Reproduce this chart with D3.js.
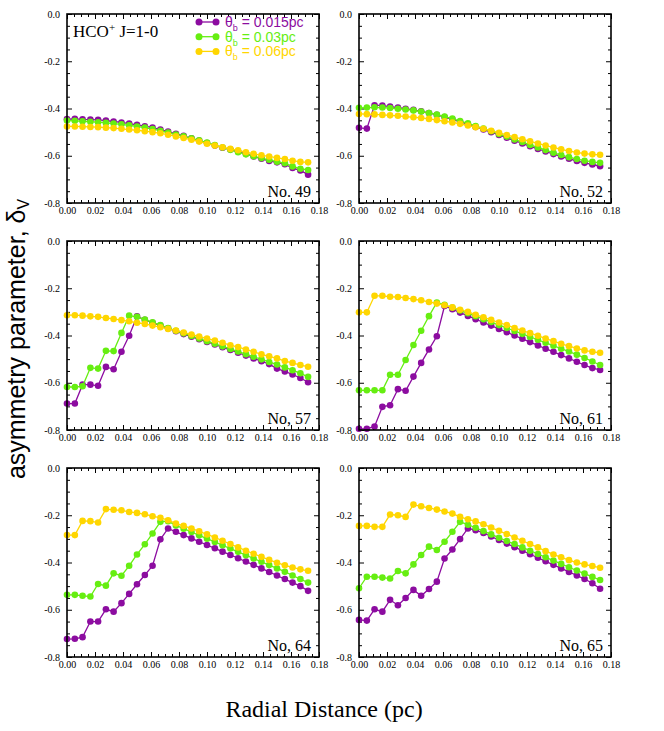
<!DOCTYPE html>
<html>
<head>
<meta charset="utf-8">
<script src="https://cdn.jsdelivr.net/npm/d3@7"></script>
<style>
  body { margin: 0; background: #fff; }
</style>
</head>
<body>
<div id="chart"></div>
<script>
// radial distance of each sample (pc)
var radius = [0.0000, 0.0056, 0.0111, 0.0167, 0.0222, 0.0278, 0.0333, 0.0389,
              0.0444, 0.0500, 0.0556, 0.0611, 0.0667, 0.0722, 0.0778, 0.0833,
              0.0889, 0.0944, 0.1000, 0.1056, 0.1111, 0.1167, 0.1222, 0.1278,
              0.1333, 0.1389, 0.1444, 0.1500, 0.1556, 0.1611, 0.1667, 0.1722];

var beams = ["0.015pc", "0.03pc", "0.06pc"];
var beamColors = ["#8c0ca0", "#66ee11", "#ffd600"];

// No. 49
var n49b015 = [-0.445,-0.444,-0.446,-0.447,-0.448,-0.451,-0.455,-0.459,-0.464,-0.469,-0.475,-0.481,-0.489,-0.498,-0.507,-0.516,-0.526,-0.536,-0.546,-0.557,-0.566,-0.574,-0.582,-0.592,-0.603,-0.613,-0.622,-0.628,-0.636,-0.652,-0.662,-0.680];
var n49b03  = [-0.451,-0.452,-0.454,-0.456,-0.458,-0.461,-0.464,-0.467,-0.471,-0.476,-0.481,-0.487,-0.494,-0.502,-0.510,-0.518,-0.526,-0.535,-0.544,-0.555,-0.565,-0.575,-0.585,-0.594,-0.602,-0.610,-0.617,-0.625,-0.632,-0.645,-0.655,-0.660];
var n49b06  = [-0.476,-0.476,-0.477,-0.478,-0.479,-0.481,-0.483,-0.486,-0.489,-0.492,-0.496,-0.500,-0.505,-0.511,-0.518,-0.525,-0.532,-0.540,-0.549,-0.557,-0.564,-0.571,-0.577,-0.585,-0.592,-0.598,-0.603,-0.609,-0.614,-0.621,-0.626,-0.628];

// No. 52
var n52b015 = [-0.482,-0.485,-0.386,-0.388,-0.392,-0.396,-0.401,-0.406,-0.412,-0.419,-0.427,-0.436,-0.446,-0.456,-0.467,-0.478,-0.489,-0.500,-0.512,-0.524,-0.536,-0.548,-0.560,-0.571,-0.582,-0.593,-0.603,-0.613,-0.622,-0.630,-0.637,-0.644];
var n52b03  = [-0.397,-0.396,-0.395,-0.396,-0.398,-0.401,-0.404,-0.408,-0.413,-0.419,-0.426,-0.434,-0.443,-0.453,-0.463,-0.474,-0.485,-0.496,-0.508,-0.519,-0.531,-0.542,-0.554,-0.565,-0.576,-0.587,-0.597,-0.606,-0.614,-0.621,-0.626,-0.630];
var n52b06  = [-0.423,-0.424,-0.425,-0.427,-0.429,-0.431,-0.434,-0.437,-0.440,-0.444,-0.449,-0.454,-0.459,-0.465,-0.472,-0.479,-0.486,-0.494,-0.503,-0.512,-0.521,-0.530,-0.539,-0.548,-0.557,-0.565,-0.573,-0.580,-0.586,-0.591,-0.594,-0.596];

// No. 57
var n57b015 = [-0.688,-0.688,-0.608,-0.608,-0.613,-0.533,-0.543,-0.469,-0.401,-0.319,-0.334,-0.346,-0.358,-0.370,-0.382,-0.394,-0.405,-0.416,-0.427,-0.438,-0.450,-0.461,-0.473,-0.485,-0.497,-0.509,-0.521,-0.540,-0.552,-0.565,-0.580,-0.598];
var n57b03  = [-0.618,-0.618,-0.615,-0.537,-0.540,-0.465,-0.466,-0.389,-0.316,-0.321,-0.333,-0.344,-0.356,-0.368,-0.380,-0.391,-0.402,-0.413,-0.424,-0.435,-0.446,-0.457,-0.468,-0.479,-0.490,-0.501,-0.512,-0.523,-0.535,-0.547,-0.560,-0.575];
var n57b06  = [-0.314,-0.314,-0.316,-0.319,-0.321,-0.326,-0.330,-0.335,-0.340,-0.346,-0.351,-0.358,-0.365,-0.372,-0.379,-0.387,-0.396,-0.404,-0.413,-0.421,-0.431,-0.441,-0.449,-0.459,-0.469,-0.480,-0.488,-0.497,-0.508,-0.516,-0.525,-0.532];

// No. 61
var n61b015 = [-0.795,-0.795,-0.785,-0.702,-0.695,-0.627,-0.634,-0.574,-0.516,-0.459,-0.403,-0.275,-0.289,-0.303,-0.317,-0.331,-0.345,-0.358,-0.372,-0.386,-0.400,-0.414,-0.428,-0.442,-0.456,-0.469,-0.483,-0.497,-0.511,-0.525,-0.538,-0.546];
var n61b03  = [-0.632,-0.632,-0.632,-0.632,-0.566,-0.566,-0.504,-0.440,-0.380,-0.318,-0.260,-0.270,-0.282,-0.294,-0.306,-0.318,-0.331,-0.343,-0.356,-0.368,-0.381,-0.393,-0.406,-0.418,-0.431,-0.443,-0.456,-0.468,-0.481,-0.495,-0.510,-0.525];
var n61b06  = [-0.302,-0.302,-0.232,-0.232,-0.236,-0.237,-0.241,-0.246,-0.251,-0.258,-0.265,-0.272,-0.281,-0.291,-0.300,-0.312,-0.323,-0.334,-0.345,-0.356,-0.368,-0.379,-0.390,-0.401,-0.413,-0.424,-0.435,-0.445,-0.455,-0.463,-0.469,-0.473];

// No. 64
var n64b015 = [-0.724,-0.723,-0.716,-0.650,-0.650,-0.598,-0.608,-0.572,-0.533,-0.492,-0.453,-0.414,-0.302,-0.256,-0.270,-0.284,-0.298,-0.312,-0.326,-0.340,-0.354,-0.368,-0.382,-0.396,-0.410,-0.425,-0.440,-0.455,-0.470,-0.485,-0.500,-0.520];
var n64b03  = [-0.537,-0.537,-0.541,-0.544,-0.491,-0.498,-0.446,-0.456,-0.414,-0.366,-0.323,-0.277,-0.228,-0.225,-0.243,-0.257,-0.271,-0.285,-0.299,-0.313,-0.327,-0.341,-0.355,-0.369,-0.383,-0.397,-0.411,-0.425,-0.439,-0.455,-0.470,-0.485];
var n64b06  = [-0.284,-0.284,-0.224,-0.225,-0.231,-0.174,-0.177,-0.179,-0.186,-0.190,-0.196,-0.204,-0.211,-0.221,-0.235,-0.245,-0.256,-0.268,-0.281,-0.294,-0.308,-0.322,-0.336,-0.350,-0.363,-0.376,-0.389,-0.401,-0.412,-0.421,-0.429,-0.435];

// No. 65
var n65b015 = [-0.643,-0.646,-0.598,-0.608,-0.558,-0.581,-0.550,-0.516,-0.541,-0.512,-0.481,-0.383,-0.345,-0.301,-0.256,-0.263,-0.275,-0.290,-0.305,-0.320,-0.335,-0.350,-0.365,-0.380,-0.395,-0.410,-0.425,-0.440,-0.455,-0.470,-0.488,-0.511];
var n65b03  = [-0.509,-0.460,-0.460,-0.464,-0.468,-0.436,-0.446,-0.408,-0.368,-0.333,-0.347,-0.312,-0.270,-0.228,-0.240,-0.253,-0.267,-0.281,-0.295,-0.309,-0.322,-0.336,-0.350,-0.364,-0.378,-0.392,-0.406,-0.420,-0.434,-0.447,-0.461,-0.474];
var n65b06  = [-0.245,-0.245,-0.249,-0.249,-0.197,-0.200,-0.207,-0.155,-0.162,-0.169,-0.176,-0.184,-0.193,-0.207,-0.217,-0.226,-0.238,-0.252,-0.266,-0.280,-0.294,-0.308,-0.322,-0.336,-0.352,-0.366,-0.378,-0.390,-0.400,-0.408,-0.415,-0.422];

var panelNames = ["No. 49", "No. 52", "No, 57", "No, 61", "No, 64", "No, 65"];
var panelSeries = [
  [n49b015, n49b03, n49b06],
  [n52b015, n52b03, n52b06],
  [n57b015, n57b03, n57b06],
  [n61b015, n61b03, n61b06],
  [n64b015, n64b03, n64b06],
  [n65b015, n65b03, n65b06]
];

var xMajor = [0, 0.02, 0.04, 0.06, 0.08, 0.10, 0.12, 0.14, 0.16, 0.18];
var xMinor = [0.005, 0.01, 0.015, 0.025, 0.03, 0.035, 0.045, 0.05, 0.055, 0.065, 0.07, 0.075,
              0.085, 0.09, 0.095, 0.105, 0.11, 0.115, 0.125, 0.13, 0.135, 0.145, 0.15, 0.155,
              0.165, 0.17, 0.175];
var yMajor = [0, -0.2, -0.4, -0.6, -0.8];
var yMinor = [-0.05, -0.1, -0.15, -0.25, -0.3, -0.35, -0.45, -0.5, -0.55, -0.65, -0.7, -0.75];

var width = 664, height = 731;
var colLeft = [67, 359], rowTop = [14, 241, 468];
var pw = 252, ph = 189;
var serif = "'Liberation Serif', 'Times New Roman', serif";
var sans = "'Liberation Sans', Arial, sans-serif";

var svg = d3.select("#chart").append("svg")
    .attr("width", width)
    .attr("height", height);

var x = d3.scaleLinear().domain([0, 0.18]).range([0, pw]);
var y = d3.scaleLinear().domain([-0.8, 0]).range([ph, 0]);

var line = d3.line()
    .x(function(d) { return x(d[0]); })
    .y(function(d) { return y(d[1]); });

function tickAxis(g, axis) {
  g.call(axis);
  g.select(".domain").remove();
  g.selectAll(".tick line").attr("stroke", "#000").attr("stroke-width", 1);
  g.selectAll(".tick text")
      .attr("fill", "#000")
      .style("font-family", serif)
      .style("font-size", "10px");
}

panelSeries.forEach(function(series, p) {
  var g = svg.append("g")
      .attr("transform", "translate(" + colLeft[p % 2] + "," + rowTop[Math.floor(p / 2)] + ")");

  // ticks on all four sides, pointing in
  tickAxis(g.append("g"), d3.axisLeft(y).tickValues(yMajor).tickSize(-5).tickPadding(7)
      .tickFormat(function(d) { return d.toFixed(1); }));
  tickAxis(g.append("g"), d3.axisLeft(y).tickValues(yMinor).tickSize(-3).tickFormat(""));
  tickAxis(g.append("g").attr("transform", "translate(" + pw + ",0)"),
      d3.axisRight(y).tickValues(yMajor).tickSize(-5).tickFormat(""));
  tickAxis(g.append("g").attr("transform", "translate(" + pw + ",0)"),
      d3.axisRight(y).tickValues(yMinor).tickSize(-3).tickFormat(""));
  tickAxis(g.append("g").attr("transform", "translate(0," + ph + ")"),
      d3.axisBottom(x).tickValues(xMajor).tickSize(-5).tickPadding(4)
      .tickFormat(function(d) { return d.toFixed(2); }));
  tickAxis(g.append("g").attr("transform", "translate(0," + ph + ")"),
      d3.axisBottom(x).tickValues(xMinor).tickSize(-3).tickFormat(""));
  tickAxis(g.append("g"), d3.axisTop(x).tickValues(xMajor).tickSize(-5).tickFormat(""));
  tickAxis(g.append("g"), d3.axisTop(x).tickValues(xMinor).tickSize(-3).tickFormat(""));

  series.forEach(function(vals, s) {
    var pts = radius.map(function(r, i) { return [r, vals[i]]; });
    g.append("path")
        .datum(pts)
        .attr("d", line)
        .attr("fill", "none")
        .attr("stroke", beamColors[s])
        .attr("stroke-width", 1.3);
    g.selectAll(".dot" + s)
        .data(pts)
      .enter().append("circle")
        .attr("class", "dot" + s)
        .attr("cx", function(d) { return x(d[0]); })
        .attr("cy", function(d) { return y(d[1]); })
        .attr("r", 3.3)
        .attr("fill", beamColors[s]);
  });

  g.append("rect")
      .attr("width", pw)
      .attr("height", ph)
      .attr("fill", "none")
      .attr("stroke", "#000")
      .attr("stroke-width", 1.6);

  g.append("text")
      .attr("x", pw - 8)
      .attr("y", ph - 6)
      .attr("text-anchor", "end")
      .style("font-family", serif)
      .style("font-size", "16px")
      .text(panelNames[p]);
});

// panel 1 annotations
var g0 = svg.append("g").attr("transform", "translate(" + colLeft[0] + "," + rowTop[0] + ")");
var title = g0.append("text")
    .attr("x", 6)
    .attr("y", 23)
    .style("font-family", serif)
    .style("font-size", "17px");
title.append("tspan").text("HCO");
title.append("tspan").attr("dy", -6).style("font-size", "11px").text("+");
title.append("tspan").attr("dy", 6).text(" J=1-0");

beams.forEach(function(b, i) {
  var ly = 8 + i * 14.7;
  var lg = g0.append("g").attr("transform", "translate(132," + ly + ")");
  lg.append("line").attr("x1", 0).attr("x2", 17)
      .attr("stroke", beamColors[i]).attr("stroke-width", 1.3);
  lg.selectAll("circle").data([0, 17]).enter().append("circle")
      .attr("cx", function(d) { return d; }).attr("r", 3.5).attr("fill", beamColors[i]);
  var t = lg.append("text")
      .attr("x", 26)
      .attr("y", 5)
      .attr("fill", beamColors[i])
      .style("font-family", sans)
      .style("font-size", "14px");
  t.append("tspan").text("\u03b8");
  t.append("tspan").attr("dy", 4).style("font-size", "9px").text("b");
  t.append("tspan").attr("dy", -4).text(" = " + b);
});

// axis titles
svg.append("text")
    .attr("x", 324)
    .attr("y", 717)
    .attr("text-anchor", "middle")
    .style("font-family", serif)
    .style("font-size", "24px")
    .text("Radial Distance (pc)");

var yt = svg.append("text")
    .attr("transform", "translate(25,339) rotate(-90)")
    .attr("text-anchor", "middle")
    .style("font-family", sans)
    .style("font-size", "25px");
yt.append("tspan").text("asymmetry parameter, \u03b4");
yt.append("tspan").attr("dy", 4).style("font-size", "16px").text("V");
</script>
</body>
</html>
